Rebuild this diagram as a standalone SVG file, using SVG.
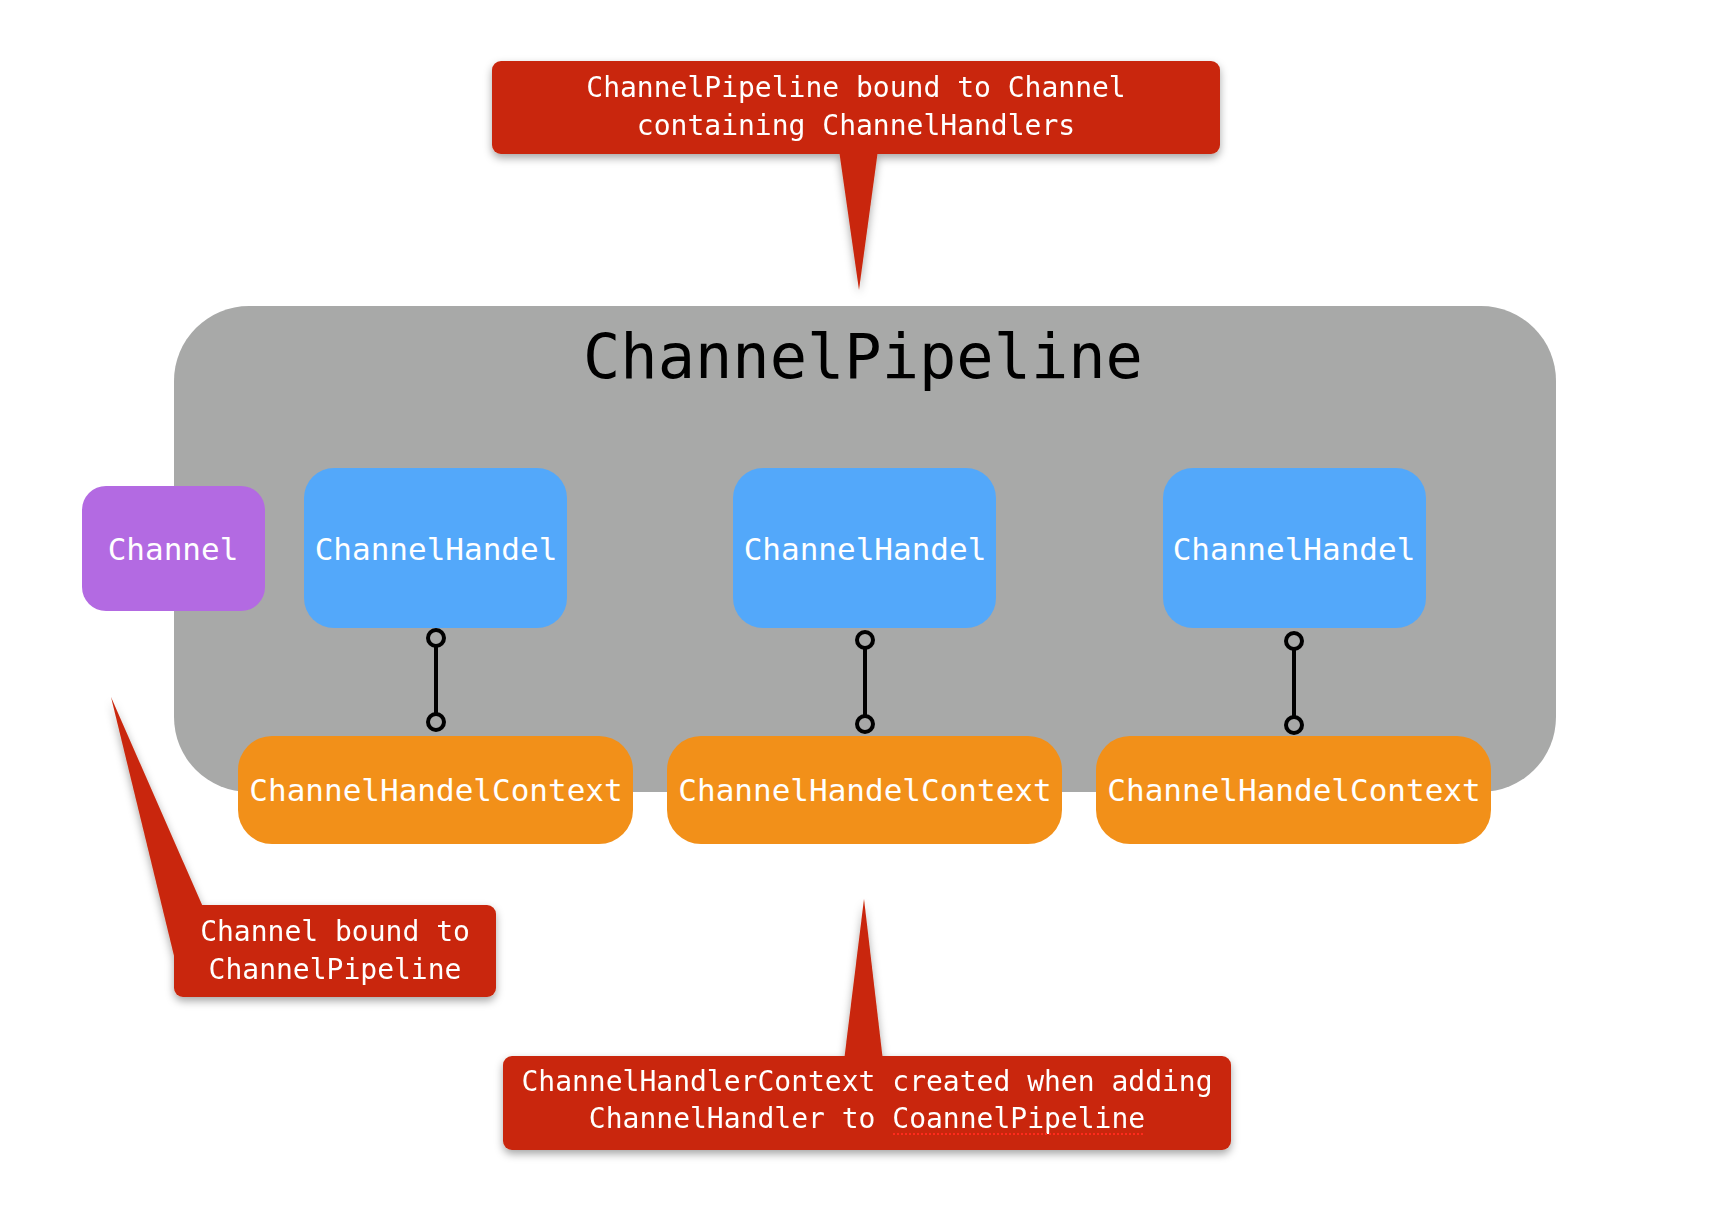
<svg xmlns="http://www.w3.org/2000/svg" width="1730" height="1216" viewBox="0 0 1730 1216">
  <style>
    .mono { font-family: "DejaVu Sans Mono", "Liberation Mono", monospace; }
    .node-text { font-family: "DejaVu Sans Mono", "Liberation Mono", monospace; font-size: 31px; fill: #ffffff; text-anchor: middle; }
    .call-text { font-family: "DejaVu Sans Mono", "Liberation Mono", monospace; font-size: 28px; fill: #ffffff; text-anchor: middle; }
    .callout { fill: #c9270b; }
    .handler { fill: #53a8fa; }
    .context { fill: #f29019; }
    .link { stroke: #000000; stroke-width: 4; fill: none; marker-start: url(#ring); marker-end: url(#ring); }
  </style>
  <defs>
    <filter id="shadow" x="-10%" y="-10%" width="120%" height="130%">
      <feDropShadow dx="0" dy="4" stdDeviation="4" flood-color="#000000" flood-opacity="0.35"/>
    </filter>
    <marker id="ring" viewBox="-12 -12 24 24" markerUnits="userSpaceOnUse" markerWidth="24" markerHeight="24" refX="0" refY="0" orient="auto">
      <circle cx="0" cy="0" r="8" fill="#a8a9a8" stroke="#000000" stroke-width="4"/>
    </marker>
  </defs>
  <rect width="1730" height="1216" fill="#ffffff"/>

  <g id="pipeline">
    <rect x="174" y="306" width="1382" height="486" rx="75" ry="75" fill="#a8a9a8"/>
    <text x="863" y="378" class="mono" font-size="62" fill="#000000" text-anchor="middle">ChannelPipeline</text>
  </g>

  <g id="channel">
    <rect x="82" y="486" width="183" height="125" rx="24" ry="24" fill="#b36ae2"/>
    <text x="173" y="560" class="node-text">Channel</text>
  </g>

  <g id="handler1">
    <rect x="304" y="468" width="263" height="160" rx="30" ry="30" class="handler"/>
    <text x="436" y="560" class="node-text">ChannelHandel</text>
  </g>
  <g id="handler2">
    <rect x="733" y="468" width="263" height="160" rx="30" ry="30" class="handler"/>
    <text x="865" y="560" class="node-text">ChannelHandel</text>
  </g>
  <g id="handler3">
    <rect x="1163" y="468" width="263" height="160" rx="30" ry="30" class="handler"/>
    <text x="1294" y="560" class="node-text">ChannelHandel</text>
  </g>

  <g id="connectors">
    <path class="link" d="M436,638 L436,722"/>
    <path class="link" d="M865,640 L865,724"/>
    <path class="link" d="M1294,641 L1294,725"/>
  </g>

  <g id="context1">
    <rect x="238" y="736" width="395" height="108" rx="34" ry="34" class="context"/>
    <text x="436" y="801" class="node-text">ChannelHandelContext</text>
  </g>
  <g id="context2">
    <rect x="667" y="736" width="395" height="108" rx="34" ry="34" class="context"/>
    <text x="865" y="801" class="node-text">ChannelHandelContext</text>
  </g>
  <g id="context3">
    <rect x="1096" y="736" width="395" height="108" rx="34" ry="34" class="context"/>
    <text x="1294" y="801" class="node-text">ChannelHandelContext</text>
  </g>

  <g id="callout-top" filter="url(#shadow)">
    <polygon class="callout" points="839,150 878,150 859,290"/>
    <rect x="492" y="61" width="728" height="93" rx="9" ry="9" class="callout"/>
    <text x="856" y="97" class="call-text">ChannelPipeline bound to Channel</text>
    <text x="856" y="135" class="call-text">containing ChannelHandlers</text>
  </g>

  <g id="callout-left" filter="url(#shadow)">
    <polygon class="callout" points="176,964 111,697 203,907 203,948"/>
    <rect x="174" y="905" width="322" height="92" rx="9" ry="9" class="callout"/>
    <text x="335" y="941" class="call-text">Channel bound to</text>
    <text x="335" y="979" class="call-text">ChannelPipeline</text>
  </g>

  <g id="callout-bottom" filter="url(#shadow)">
    <polygon class="callout" points="844,1061 864,899 883,1061"/>
    <rect x="503" y="1056" width="728" height="94" rx="9" ry="9" class="callout"/>
    <text x="867" y="1091" class="call-text">ChannelHandlerContext created when adding</text>
    <text x="867" y="1128" class="call-text">ChannelHandler to CoannelPipeline</text>
    <line x1="893" y1="1134" x2="1145" y2="1134" stroke="#ff2a1a" stroke-width="2" stroke-dasharray="2 2"/>
  </g>
</svg>
